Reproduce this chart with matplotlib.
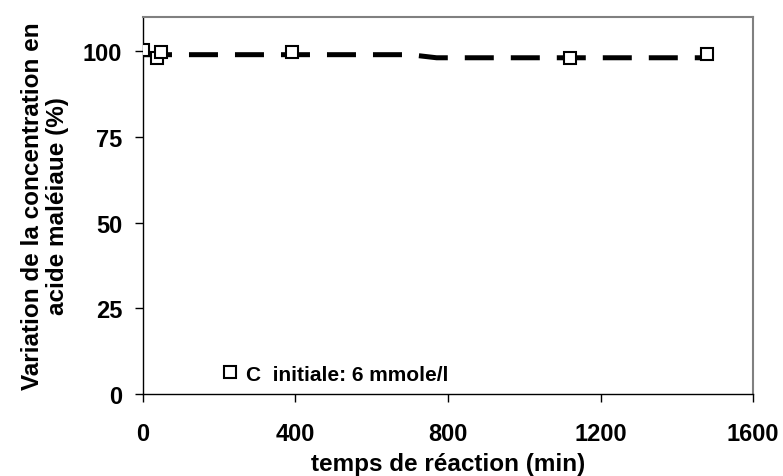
import matplotlib
matplotlib.use("Agg")
import matplotlib.pyplot as plt

plt.rcParams['font.family'] = ['Liberation Sans', 'DejaVu Sans']
plt.rcParams['font.weight'] = 'bold'

#===============================================================================
# measured points
temps = [0, 36, 46, 390, 1120, 1480]
concentration = [100.3, 98.0, 99.8, 99.8, 98.0, 99.1]

# dashed trend line
trend_temps = [0, 700, 770, 1480]
trend_conc = [99.0, 99.0, 98.1, 98.1]

x_ticks = [0, 400, 800, 1200, 1600]
y_ticks = [0, 25, 50, 75, 100]

#===============================================================================
fig = plt.figure(figsize=(7.83, 4.77), dpi=100)
ax = fig.add_axes([0.1826, 0.172, 0.7791, 0.7903])

ax.plot(trend_temps, trend_conc, color="black", lw=3.6,
        dashes=(5.8, 3.4), solid_capstyle="butt", dash_capstyle="butt", zorder=2)
ax.plot(temps, concentration, ls="none", marker="s", ms=8, mfc="white",
        mec="black", mew=1.5, label="C  initiale: 6 mmole/l", zorder=3)

ax.set_xlim(0, 1600)
ax.set_ylim(0, 110)
ax.set_xticks(x_ticks)
ax.set_yticks(y_ticks)
ax.tick_params(direction="out", length=6, width=1, labelsize=17)
ax.tick_params(axis="y", pad=9)
ax.tick_params(axis="x", pad=14)
for lbl in ax.get_xticklabels() + ax.get_yticklabels():
    lbl.set_fontweight("bold")

for side in ["top", "right"]:
    ax.spines[side].set_color("#808080")
    ax.spines[side].set_linewidth(1.5)
for side in ["left", "bottom"]:
    ax.spines[side].set_color("black")
    ax.spines[side].set_linewidth(1.0)

ax.set_xlabel("temps de réaction (min)", fontsize=17.5, fontweight="bold", labelpad=5)
ax.set_ylabel("Variation de la concentration en\nacide maléiaue (%)",
              fontsize=17.5, fontweight="bold", labelpad=10, linespacing=1.1)

ax.legend(loc="lower left", bbox_to_anchor=(0.115, 0.005), frameon=False,
          handlelength=0.8, handletextpad=0.4, borderaxespad=0,
          prop={"size": 15, "weight": "bold"})

fig.savefig("out.png", dpi=100)
